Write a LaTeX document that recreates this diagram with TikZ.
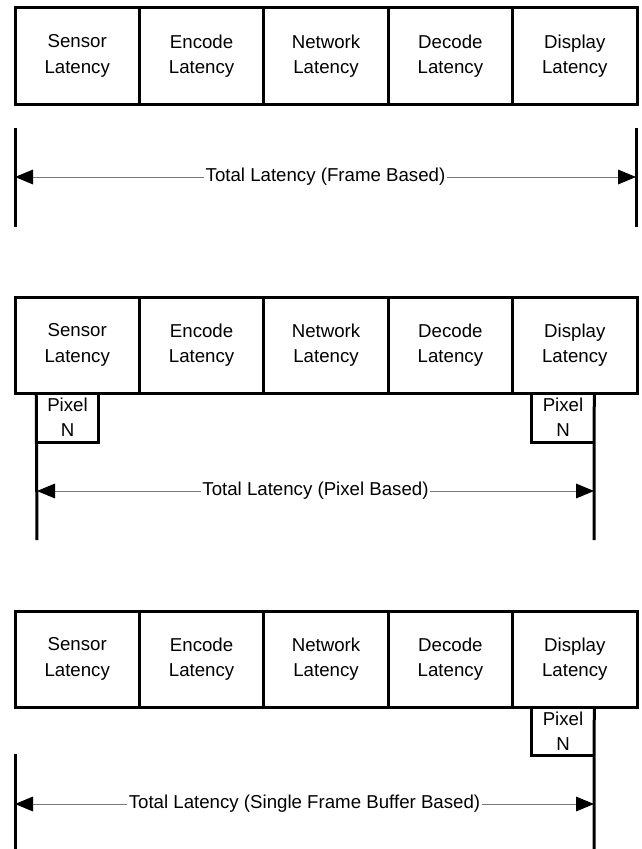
\documentclass[tikz,border=0pt]{standalone}
\usepackage{fontspec}
\setmainfont{Liberation Sans}
\usepackage{tikz}
\usetikzlibrary{arrows.meta}

\definecolor{linegray}{RGB}{120,120,120}

\begin{document}
\begin{tikzpicture}[x=0.75pt, y=-0.75pt,
		font=\fontsize{14}{19}\selectfont,
		cell/.style={draw, line width=2.25pt, minimum width=93.3pt, minimum height=72pt, align=center, inner sep=0pt},
		pixbox/.style={minimum width=46.5pt, minimum height=36.75pt, align=center, inner sep=0pt},
		bar/.style={line width=2.25pt},
		span/.style={draw=linegray, line width=0.75pt, -{Triangle[length=13.5pt, width=11pt, fill=black, color=black]}},
		spanlabel/.style={inner sep=1pt}]
				\useasboundingbox (0,0) rectangle (642,849);
				
				% Latency cells, one row per case
				\foreach \row/\y in {a/56, b/345, c/659} {
					\foreach \name/\txt [count=\i from 0] in {sen/Sensor, enc/Encode, net/Network, dec/Decode, dis/Display} {
						\node[cell] (\row\name) at ({77.2+124.4*\i}, \y) {\txt\\Latency};
					}
				}
				
				% Frame based
				\coordinate (aLt) at (15,128);
				\coordinate (aLb) at (15,227);
				\coordinate (aRt) at (636,128);
				\coordinate (aRb) at (636,227);
				\coordinate (aL) at (15,177);
				\coordinate (aR) at (636,177);
				\draw[bar] (aLt) -- (aLb); % left bar
				\draw[bar] (aRt) -- (aRb); % right bar
				\node[spanlabel] (lblA) at (325.5,177) {Total Latency (Frame Based)};
				\draw[span] (lblA.west) -- (aL);
				\draw[span] (lblA.east) -- (aR);
				
				% Pixel based
				\node[pixbox] (pixBL) at (67.5,417.5) {Pixel\\N};
				\node[pixbox] (pixBR) at (563,417.5) {Pixel\\N};
				\draw[bar] (pixBL.south west) -- (pixBL.south east) -- (pixBL.north east);
				\draw[bar] (pixBR.north west) -- (pixBR.south west) -- (pixBR.south east);
				\coordinate (bLb) at (37,540);
				\coordinate (bRb) at (594,540);
				\draw[bar] (pixBL.north west) -- (bLb); % left line
				\draw[bar] (pixBR.north east) -- (bRb); % right line
				\coordinate (bL) at (37,491);
				\coordinate (bR) at (594,491);
				\node[spanlabel] (lblB) at (315.5,491) {Total Latency (Pixel Based)};
				\draw[span] (lblB.west) -- (bL);
				\draw[span] (lblB.east) -- (bR);
				
				% Single frame buffer based
				\node[pixbox] (pixCR) at (563,731) {Pixel\\N};
				\draw[bar] (pixCR.north west) -- (pixCR.south west) -- (pixCR.south east);
				\coordinate (cLt) at (15,754);
				\coordinate (cLb) at (15,849);
				\coordinate (cRb) at (594,849);
				\draw[bar] (cLt) -- (cLb); % left bar
				\draw[bar] (pixCR.north east) -- (cRb); % right line
				\coordinate (cL) at (15,804);
				\coordinate (cR) at (594,804);
				\node[spanlabel] (lblC) at (304.5,804) {Total Latency (Single Frame Buffer Based)};
				\draw[span] (lblC.west) -- (cL);
				\draw[span] (lblC.east) -- (cR);
\end{tikzpicture}
\end{document}
